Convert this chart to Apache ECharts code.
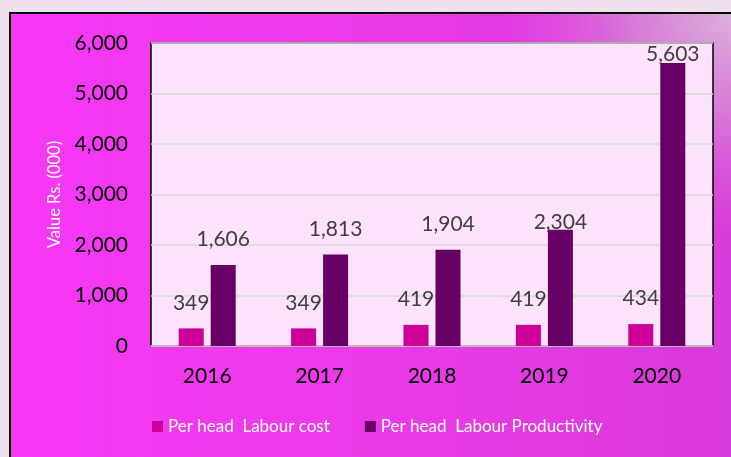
<!DOCTYPE html>
<html>
<head>
<meta charset="utf-8">
<script src="https://cdn.jsdelivr.net/npm/echarts@6/dist/echarts.min.js"></script>
<style>
html,body{margin:0;padding:0;background:#efe1ee;}
#chart{width:731px;height:457px;}
</style>
</head>
<body>
<div id="chart"></div>
<script>
const categories = ['2016', '2017', '2018', '2019', '2020'];
const labourCost = [349, 349, 419, 419, 434];
const labourProductivity = [1606, 1813, 1904, 2304, 5603];
const seriesNames = ['Per head  Labour cost', 'Per head  Labour Productivity'];
const yTicks = [0, 1000, 2000, 3000, 4000, 5000, 6000];

const FONT = 'Lato';
const chart = echarts.init(document.getElementById('chart'), null, {renderer: 'canvas'});

const prodLabelDist = [15, 15, 15, -3, -2];

chart.setOption({
  backgroundColor: '#efe1ee',
  animation: false,
  graphic: [
    {
      type: 'rect', z: -100, silent: true,
      shape: {x: 10, y: 13, width: 760, height: 470},
      style: {
        fill: new echarts.graphic.LinearGradient(0, 0, 731, 0, [
          {offset: 0, color: '#f838f6'},
          {offset: 0.5, color: '#ec3ae9'},
          {offset: 1, color: '#d83ad8'}
        ], true),
        stroke: '#000', lineWidth: 2
      }
    },
    {
      type: 'rect', z: -99, silent: true,
      shape: {x: 11, y: 14, width: 758, height: 468},
      style: {
        fill: new echarts.graphic.RadialGradient(740, 5, 240, [
          {offset: 0, color: 'rgba(220,185,220,1)'},
          {offset: 0.45, color: 'rgba(215,150,215,0.7)'},
          {offset: 1, color: 'rgba(215,100,215,0)'}
        ], true)
      }
    }
  ],
  textStyle: {fontFamily: FONT},
  legend: {
    left: 152, top: 418, padding: 0,
    itemWidth: 11, itemHeight: 11, itemGap: 35,
    icon: 'rect',
    textStyle: {color: '#ffffff', fontSize: 17, fontFamily: FONT},
    data: seriesNames
  },
  grid: {
    left: 151, top: 43, right: 18, bottom: 111,
    show: true, backgroundColor: '#fde4fc',
    borderColor: '#000', borderWidth: 1.5
  },
  xAxis: {
    type: 'category', data: categories,
    axisLine: {show: true, lineStyle: {color: '#bfbfbf', width: 1.5}},
    axisTick: {show: false},
    axisLabel: {color: '#000', fontSize: 21, margin: 20, fontFamily: FONT}
  },
  yAxis: {
    type: 'value', min: yTicks[0], max: yTicks[yTicks.length - 1], interval: 1000,
    name: 'Value Rs. (000)', nameLocation: 'middle', nameGap: 86,
    nameTextStyle: {color: '#ffffff', fontSize: 16.5, fontFamily: FONT},
    axisLine: {show: false},
    axisTick: {show: false},
    splitLine: {lineStyle: {color: '#d9d9d9', width: 1.5}},
    axisLabel: {color: '#000', fontSize: 21, margin: 23, fontFamily: FONT,
      formatter: v => v.toLocaleString('en-US')}
  },
  series: [
    {
      name: seriesNames[0], type: 'bar', data: labourCost,
      barWidth: 25, barGap: '28%',
      itemStyle: {color: '#cc0099'},
      label: {show: true, position: 'top', distance: 15, color: '#404040', fontSize: 21, fontFamily: FONT,
        formatter: p => p.value.toLocaleString('en-US')}
    },
    {
      name: seriesNames[1], type: 'bar',
      data: labourProductivity.map((v, i) => ({value: v, label: {distance: prodLabelDist[i]}})),
      barWidth: 25,
      itemStyle: {color: '#660066'},
      label: {show: true, position: 'top', color: '#404040', fontSize: 21, fontFamily: FONT,
        formatter: p => p.value.toLocaleString('en-US')}
    }
  ]
});
</script>
</body>
</html>
